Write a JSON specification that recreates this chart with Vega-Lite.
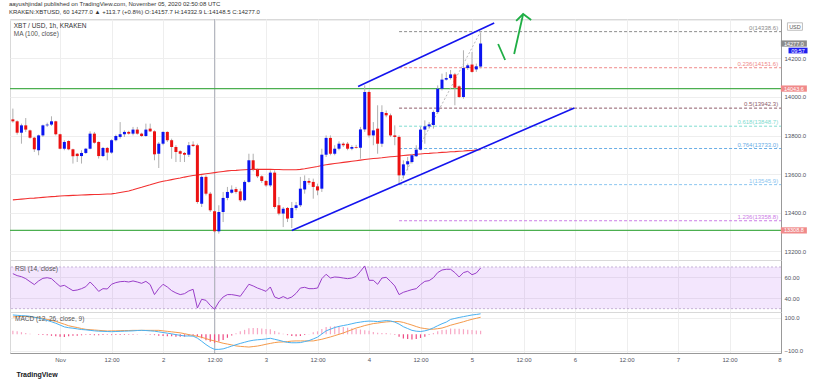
{
"$schema":"https://vega.github.io/schema/vega-lite/v6.json",
"background":"white",
"padding":{"left":8,"top":0,"right":5,"bottom":4},
"title":{"text":"aayushjindal published on TradingView.com, November 05, 2020 02:50:08 UTC","subtitle":"KRAKEN:XBTUSD, 60  14277.0 ▲ +113.7 (+0.8%) O:14157.7 H:14332.9 L:14148.5 C:14277.0","anchor":"start","font":"Liberation Sans","fontSize":6,"fontWeight":"normal","color":"#333333","subtitleFont":"Liberation Sans","subtitleFontSize":6,"subtitleColor":"#333333","subtitlePadding":2,"offset":-5},
"config":{"font":"Liberation Sans","scale":{"continuousPadding":0},"view":{"stroke":"#d9d9d9"},"axis":{"labelFont":"Liberation Sans","labelFontSize":6,"labelColor":"#50535e","gridColor":"#eeeeee","domainColor":"#999999","ticks":false,"titleFont":"Liberation Sans"},"text":{"font":"Liberation Sans","fontSize":6}},
"datasets":{
"candles":[
{"t":"2020-10-31T13:00Z","o":13884,"h":13940,"l":13867,"c":13874,"ma":13467,"rsi":63.6,"macd":117,"sig":105,"hist":22},
{"t":"2020-10-31T14:00Z","o":13874,"h":13879,"l":13805,"c":13815,"ma":13469,"rsi":61.7,"macd":115,"sig":107,"hist":18},
{"t":"2020-10-31T15:00Z","o":13815,"h":13862,"l":13758,"c":13853,"ma":13471,"rsi":60.7,"macd":113,"sig":108,"hist":13},
{"t":"2020-10-31T16:00Z","o":13853,"h":13891,"l":13819,"c":13831,"ma":13473,"rsi":58.8,"macd":112,"sig":108,"hist":8},
{"t":"2020-10-31T17:00Z","o":13827,"h":13831,"l":13784,"c":13789,"ma":13475,"rsi":55.9,"macd":109,"sig":105,"hist":4},
{"t":"2020-10-31T18:00Z","o":13789,"h":13793,"l":13715,"c":13729,"ma":13476,"rsi":53.1,"macd":103,"sig":103,"hist":0},
{"t":"2020-10-31T19:00Z","o":13724,"h":13805,"l":13698,"c":13801,"ma":13478,"rsi":56.6,"macd":98,"sig":101,"hist":-3},
{"t":"2020-10-31T20:00Z","o":13801,"h":13857,"l":13793,"c":13853,"ma":13480,"rsi":59.1,"macd":92,"sig":96,"hist":-4},
{"t":"2020-10-31T21:00Z","o":13853,"h":13867,"l":13845,"c":13857,"ma":13482,"rsi":59.7,"macd":84,"sig":90,"hist":-6},
{"t":"2020-10-31T22:00Z","o":13857,"h":13900,"l":13850,"c":13874,"ma":13484,"rsi":58.8,"macd":76,"sig":85,"hist":-9},
{"t":"2020-10-31T23:00Z","o":13874,"h":13877,"l":13801,"c":13807,"ma":13485,"rsi":55.0,"macd":67,"sig":78,"hist":-11},
{"t":"2020-11-01T00:00Z","o":13807,"h":13810,"l":13729,"c":13732,"ma":13487,"rsi":51.4,"macd":56,"sig":70,"hist":-14},
{"t":"2020-11-01T01:00Z","o":13732,"h":13776,"l":13724,"c":13767,"ma":13488,"rsi":52.4,"macd":45,"sig":61,"hist":-16},
{"t":"2020-11-01T02:00Z","o":13772,"h":13776,"l":13724,"c":13729,"ma":13489,"rsi":49.8,"macd":40,"sig":52,"hist":-12},
{"t":"2020-11-01T03:00Z","o":13729,"h":13732,"l":13655,"c":13693,"ma":13490,"rsi":47.3,"macd":37,"sig":46,"hist":-9},
{"t":"2020-11-01T04:00Z","o":13706,"h":13710,"l":13663,"c":13694,"ma":13491,"rsi":47.9,"macd":33,"sig":41,"hist":-8},
{"t":"2020-11-01T05:00Z","o":13694,"h":13724,"l":13655,"c":13710,"ma":13492,"rsi":49.2,"macd":29,"sig":35,"hist":-6},
{"t":"2020-11-01T06:00Z","o":13710,"h":13736,"l":13705,"c":13732,"ma":13493,"rsi":51.1,"macd":27,"sig":30,"hist":-3},
{"t":"2020-11-01T07:00Z","o":13732,"h":13822,"l":13729,"c":13810,"ma":13494,"rsi":55.6,"macd":24,"sig":28,"hist":-4},
{"t":"2020-11-01T08:00Z","o":13810,"h":13819,"l":13758,"c":13763,"ma":13495,"rsi":51.4,"macd":21,"sig":26,"hist":-5},
{"t":"2020-11-01T09:00Z","o":13767,"h":13770,"l":13681,"c":13694,"ma":13495,"rsi":46.6,"macd":19,"sig":24,"hist":-5},
{"t":"2020-11-01T10:00Z","o":13694,"h":13741,"l":13689,"c":13736,"ma":13496,"rsi":49.2,"macd":18,"sig":22,"hist":-4},
{"t":"2020-11-01T11:00Z","o":13736,"h":13741,"l":13672,"c":13712,"ma":13497,"rsi":48.9,"macd":17,"sig":20,"hist":-3},
{"t":"2020-11-01T12:00Z","o":13712,"h":13781,"l":13706,"c":13776,"ma":13498,"rsi":53.4,"macd":16,"sig":21,"hist":-5},
{"t":"2020-11-01T13:00Z","o":13776,"h":13805,"l":13770,"c":13798,"ma":13501,"rsi":55.0,"macd":17,"sig":21,"hist":-4},
{"t":"2020-11-01T14:00Z","o":13793,"h":13870,"l":13784,"c":13807,"ma":13505,"rsi":55.9,"macd":18,"sig":22,"hist":-4},
{"t":"2020-11-01T15:00Z","o":13807,"h":13827,"l":13793,"c":13819,"ma":13509,"rsi":56.2,"macd":19,"sig":23,"hist":-4},
{"t":"2020-11-01T16:00Z","o":13819,"h":13825,"l":13805,"c":13810,"ma":13513,"rsi":55.6,"macd":20,"sig":23,"hist":-3},
{"t":"2020-11-01T17:00Z","o":13810,"h":13845,"l":13801,"c":13831,"ma":13519,"rsi":56.6,"macd":21,"sig":24,"hist":-3},
{"t":"2020-11-01T18:00Z","o":13831,"h":13845,"l":13805,"c":13810,"ma":13526,"rsi":55.6,"macd":23,"sig":24,"hist":-1},
{"t":"2020-11-01T19:00Z","o":13810,"h":13815,"l":13793,"c":13798,"ma":13532,"rsi":54.3,"macd":24,"sig":24,"hist":0},
{"t":"2020-11-01T20:00Z","o":13798,"h":13862,"l":13793,"c":13831,"ma":13539,"rsi":56.2,"macd":23,"sig":24,"hist":-1},
{"t":"2020-11-01T21:00Z","o":13836,"h":13862,"l":13819,"c":13822,"ma":13545,"rsi":53.1,"macd":21,"sig":24,"hist":-3},
{"t":"2020-11-01T22:00Z","o":13822,"h":13827,"l":13672,"c":13703,"ma":13552,"rsi":43.5,"macd":19,"sig":24,"hist":-5},
{"t":"2020-11-01T23:00Z","o":13706,"h":13767,"l":13632,"c":13758,"ma":13558,"rsi":49.2,"macd":15,"sig":24,"hist":-9},
{"t":"2020-11-02T00:00Z","o":13758,"h":13822,"l":13750,"c":13819,"ma":13563,"rsi":53.4,"macd":11,"sig":21,"hist":-10},
{"t":"2020-11-02T01:00Z","o":13819,"h":13822,"l":13767,"c":13776,"ma":13567,"rsi":50.8,"macd":7,"sig":18,"hist":-11},
{"t":"2020-11-02T02:00Z","o":13776,"h":13784,"l":13680,"c":13741,"ma":13572,"rsi":47.3,"macd":3,"sig":15,"hist":-12},
{"t":"2020-11-02T03:00Z","o":13741,"h":13750,"l":13663,"c":13715,"ma":13576,"rsi":45.1,"macd":-2,"sig":12,"hist":-14},
{"t":"2020-11-02T04:00Z","o":13719,"h":13724,"l":13663,"c":13706,"ma":13580,"rsi":43.5,"macd":-6,"sig":9,"hist":-15},
{"t":"2020-11-02T05:00Z","o":13710,"h":13715,"l":13663,"c":13701,"ma":13585,"rsi":44.4,"macd":-10,"sig":4,"hist":-14},
{"t":"2020-11-02T06:00Z","o":13701,"h":13767,"l":13689,"c":13750,"ma":13589,"rsi":47.0,"macd":-10,"sig":-2,"hist":-8},
{"t":"2020-11-02T07:00Z","o":13753,"h":13770,"l":13741,"c":13746,"ma":13593,"rsi":48.6,"macd":-11,"sig":-7,"hist":-4},
{"t":"2020-11-02T08:00Z","o":13750,"h":13758,"l":13447,"c":13456,"ma":13596,"rsi":30.6,"macd":-23,"sig":-12,"hist":-11},
{"t":"2020-11-02T09:00Z","o":13447,"h":13594,"l":13430,"c":13586,"ma":13599,"rsi":39.0,"macd":-42,"sig":-18,"hist":-24},
{"t":"2020-11-02T10:00Z","o":13586,"h":13594,"l":13490,"c":13499,"ma":13602,"rsi":38.0,"macd":-62,"sig":-26,"hist":-36},
{"t":"2020-11-02T11:00Z","o":13499,"h":13508,"l":13404,"c":13413,"ma":13605,"rsi":33.2,"macd":-79,"sig":-34,"hist":-45},
{"t":"2020-11-02T12:00Z","o":13408,"h":13413,"l":13295,"c":13304,"ma":13608,"rsi":29.4,"macd":-91,"sig":-40,"hist":-51},
{"t":"2020-11-02T13:00Z","o":13304,"h":13439,"l":13292,"c":13404,"ma":13611,"rsi":36.4,"macd":-91,"sig":-47,"hist":-44},
{"t":"2020-11-02T14:00Z","o":13404,"h":13508,"l":13352,"c":13477,"ma":13614,"rsi":41.2,"macd":-88,"sig":-54,"hist":-34},
{"t":"2020-11-02T15:00Z","o":13477,"h":13534,"l":13465,"c":13508,"ma":13617,"rsi":43.5,"macd":-80,"sig":-59,"hist":-21},
{"t":"2020-11-02T16:00Z","o":13504,"h":13542,"l":13499,"c":13520,"ma":13619,"rsi":43.5,"macd":-71,"sig":-64,"hist":-7},
{"t":"2020-11-02T17:00Z","o":13523,"h":13534,"l":13499,"c":13508,"ma":13620,"rsi":42.8,"macd":-63,"sig":-70,"hist":7},
{"t":"2020-11-02T18:00Z","o":13511,"h":13525,"l":13456,"c":13465,"ma":13622,"rsi":41.9,"macd":-55,"sig":-73,"hist":18},
{"t":"2020-11-02T19:00Z","o":13465,"h":13568,"l":13460,"c":13560,"ma":13623,"rsi":47.6,"macd":-48,"sig":-75,"hist":27},
{"t":"2020-11-02T20:00Z","o":13560,"h":13706,"l":13555,"c":13672,"ma":13624,"rsi":53.4,"macd":-41,"sig":-77,"hist":36},
{"t":"2020-11-02T21:00Z","o":13672,"h":13706,"l":13615,"c":13625,"ma":13625,"rsi":51.8,"macd":-36,"sig":-74,"hist":38},
{"t":"2020-11-02T22:00Z","o":13625,"h":13630,"l":13580,"c":13589,"ma":13625,"rsi":49.8,"macd":-33,"sig":-71,"hist":38},
{"t":"2020-11-02T23:00Z","o":13589,"h":13594,"l":13555,"c":13565,"ma":13625,"rsi":48.3,"macd":-31,"sig":-66,"hist":35},
{"t":"2020-11-03T00:00Z","o":13565,"h":13570,"l":13535,"c":13542,"ma":13625,"rsi":46.6,"macd":-28,"sig":-60,"hist":32},
{"t":"2020-11-03T01:00Z","o":13542,"h":13620,"l":13534,"c":13608,"ma":13625,"rsi":50.8,"macd":-24,"sig":-55,"hist":31},
{"t":"2020-11-03T02:00Z","o":13608,"h":13620,"l":13421,"c":13430,"ma":13624,"rsi":41.2,"macd":-30,"sig":-50,"hist":20},
{"t":"2020-11-03T03:00Z","o":13439,"h":13482,"l":13387,"c":13396,"ma":13624,"rsi":39.6,"macd":-36,"sig":-47,"hist":11},
{"t":"2020-11-03T04:00Z","o":13396,"h":13430,"l":13326,"c":13421,"ma":13623,"rsi":41.6,"macd":-43,"sig":-46,"hist":3},
{"t":"2020-11-03T05:00Z","o":13425,"h":13430,"l":13352,"c":13370,"ma":13623,"rsi":39.6,"macd":-49,"sig":-44,"hist":-5},
{"t":"2020-11-03T06:00Z","o":13373,"h":13456,"l":13321,"c":13425,"ma":13623,"rsi":41.2,"macd":-51,"sig":-41,"hist":-10},
{"t":"2020-11-03T07:00Z","o":13425,"h":13456,"l":13413,"c":13439,"ma":13623,"rsi":44.7,"macd":-51,"sig":-40,"hist":-11},
{"t":"2020-11-03T08:00Z","o":13439,"h":13586,"l":13430,"c":13525,"ma":13625,"rsi":49.8,"macd":-50,"sig":-40,"hist":-10},
{"t":"2020-11-03T09:00Z","o":13521,"h":13594,"l":13499,"c":13565,"ma":13628,"rsi":50.5,"macd":-44,"sig":-40,"hist":-4},
{"t":"2020-11-03T10:00Z","o":13565,"h":13580,"l":13545,"c":13556,"ma":13632,"rsi":49.2,"macd":-38,"sig":-40,"hist":2},
{"t":"2020-11-03T11:00Z","o":13560,"h":13577,"l":13473,"c":13534,"ma":13636,"rsi":49.2,"macd":-28,"sig":-40,"hist":12},
{"t":"2020-11-03T12:00Z","o":13537,"h":13551,"l":13491,"c":13516,"ma":13640,"rsi":49.8,"macd":-17,"sig":-35,"hist":18},
{"t":"2020-11-03T13:00Z","o":13525,"h":13732,"l":13508,"c":13701,"ma":13645,"rsi":58.8,"macd":2,"sig":-30,"hist":32},
{"t":"2020-11-03T14:00Z","o":13701,"h":13801,"l":13689,"c":13788,"ma":13649,"rsi":63.0,"macd":21,"sig":-23,"hist":44},
{"t":"2020-11-03T15:00Z","o":13788,"h":13801,"l":13698,"c":13706,"ma":13652,"rsi":59.4,"macd":31,"sig":-16,"hist":47},
{"t":"2020-11-03T16:00Z","o":13706,"h":13750,"l":13698,"c":13732,"ma":13655,"rsi":60.4,"macd":41,"sig":-8,"hist":49},
{"t":"2020-11-03T17:00Z","o":13732,"h":13770,"l":13724,"c":13758,"ma":13658,"rsi":60.1,"macd":48,"sig":0,"hist":48},
{"t":"2020-11-03T18:00Z","o":13758,"h":13765,"l":13741,"c":13750,"ma":13661,"rsi":59.4,"macd":53,"sig":8,"hist":45},
{"t":"2020-11-03T19:00Z","o":13758,"h":13767,"l":13724,"c":13732,"ma":13664,"rsi":58.8,"macd":58,"sig":18,"hist":40},
{"t":"2020-11-03T20:00Z","o":13732,"h":13750,"l":13724,"c":13741,"ma":13667,"rsi":59.4,"macd":64,"sig":28,"hist":36},
{"t":"2020-11-03T21:00Z","o":13741,"h":13752,"l":13733,"c":13737,"ma":13670,"rsi":61.0,"macd":70,"sig":38,"hist":32},
{"t":"2020-11-03T22:00Z","o":13737,"h":13845,"l":13680,"c":13832,"ma":13673,"rsi":65.8,"macd":74,"sig":45,"hist":29},
{"t":"2020-11-03T23:00Z","o":13832,"h":14060,"l":13819,"c":14026,"ma":13676,"rsi":71.0,"macd":78,"sig":53,"hist":25},
{"t":"2020-11-04T00:00Z","o":14026,"h":14034,"l":13790,"c":13801,"ma":13679,"rsi":57.2,"macd":80,"sig":59,"hist":21},
{"t":"2020-11-04T01:00Z","o":13801,"h":13870,"l":13750,"c":13827,"ma":13681,"rsi":57.2,"macd":79,"sig":65,"hist":14},
{"t":"2020-11-04T02:00Z","o":13836,"h":13957,"l":13706,"c":13758,"ma":13683,"rsi":53.4,"macd":77,"sig":68,"hist":9},
{"t":"2020-11-04T03:00Z","o":13758,"h":13957,"l":13741,"c":13922,"ma":13685,"rsi":59.4,"macd":80,"sig":72,"hist":8},
{"t":"2020-11-04T04:00Z","o":13917,"h":13930,"l":13895,"c":13905,"ma":13688,"rsi":60.1,"macd":83,"sig":75,"hist":8},
{"t":"2020-11-04T05:00Z","o":13905,"h":13914,"l":13793,"c":13801,"ma":13690,"rsi":56.2,"macd":81,"sig":77,"hist":4},
{"t":"2020-11-04T06:00Z","o":13801,"h":13853,"l":13750,"c":13793,"ma":13692,"rsi":51.8,"macd":74,"sig":77,"hist":-3},
{"t":"2020-11-04T07:00Z","o":13793,"h":13801,"l":13545.9,"c":13594,"ma":13694,"rsi":43.5,"macd":62,"sig":77,"hist":-15},
{"t":"2020-11-04T08:00Z","o":13594,"h":13672,"l":13577,"c":13651,"ma":13697,"rsi":45.7,"macd":46,"sig":72,"hist":-26},
{"t":"2020-11-04T09:00Z","o":13651,"h":13689,"l":13620,"c":13667,"ma":13699,"rsi":47.0,"macd":35,"sig":64,"hist":-29},
{"t":"2020-11-04T10:00Z","o":13663,"h":13706,"l":13655,"c":13698,"ma":13701,"rsi":48.3,"macd":24,"sig":56,"hist":-32},
{"t":"2020-11-04T11:00Z","o":13693,"h":13750,"l":13689,"c":13727,"ma":13703,"rsi":49.2,"macd":19,"sig":47,"hist":-28},
{"t":"2020-11-04T12:00Z","o":13727,"h":13845,"l":13724,"c":13831,"ma":13705,"rsi":53.1,"macd":17,"sig":39,"hist":-22},
{"t":"2020-11-04T13:00Z","o":13831,"h":13879,"l":13758,"c":13848,"ma":13707,"rsi":56.2,"macd":21,"sig":35,"hist":-14},
{"t":"2020-11-04T14:00Z","o":13848,"h":13870,"l":13836,"c":13858,"ma":13708,"rsi":56.9,"macd":28,"sig":31,"hist":-3},
{"t":"2020-11-04T15:00Z","o":13855,"h":13930,"l":13836,"c":13922,"ma":13710,"rsi":59.7,"macd":39,"sig":31,"hist":8},
{"t":"2020-11-04T16:00Z","o":13922,"h":14060,"l":13914,"c":14043,"ma":13711,"rsi":64.6,"macd":52,"sig":34,"hist":18},
{"t":"2020-11-04T17:00Z","o":14043,"h":14121,"l":14034,"c":14090,"ma":13713,"rsi":67.1,"macd":64,"sig":38,"hist":26},
{"t":"2020-11-04T18:00Z","o":14090,"h":14129,"l":14085,"c":14098,"ma":13714,"rsi":67.8,"macd":74,"sig":46,"hist":28},
{"t":"2020-11-04T19:00Z","o":14098,"h":14140,"l":14090,"c":14117,"ma":13716,"rsi":67.8,"macd":90,"sig":55,"hist":35},
{"t":"2020-11-04T20:00Z","o":14117,"h":14125,"l":13957,"c":14048,"ma":13717,"rsi":64.6,"macd":96,"sig":62,"hist":34},
{"t":"2020-11-04T21:00Z","o":14055,"h":14060,"l":13995,"c":14000,"ma":13719,"rsi":60.4,"macd":102,"sig":69,"hist":33},
{"t":"2020-11-04T22:00Z","o":14000,"h":14242,"l":13991,"c":14150,"ma":13720,"rsi":64.6,"macd":107,"sig":76,"hist":31},
{"t":"2020-11-04T23:00Z","o":14150,"h":14173,"l":14140,"c":14164,"ma":13722,"rsi":65.8,"macd":112,"sig":84,"hist":28},
{"t":"2020-11-05T00:00Z","o":14168,"h":14233,"l":14126,"c":14130,"ma":13723,"rsi":62.6,"macd":117,"sig":91,"hist":26},
{"t":"2020-11-05T01:00Z","o":14143,"h":14173,"l":14130,"c":14159,"ma":13725,"rsi":64.2,"macd":120,"sig":97,"hist":23},
{"t":"2020-11-05T02:00Z","o":14157.7,"h":14332.9,"l":14148.5,"c":14277.0,"ma":13727,"rsi":69.0,"macd":124,"sig":103,"hist":21}
],
"fib":[
{"lvl":"0","p":14338.6,"lab":"0(14338.6)"},
{"lvl":"0.236","p":14151.6,"lab":"0.236(14151.6)"},
{"lvl":"0.5","p":13942.3,"lab":"0.5(13942.3)"},
{"lvl":"0.618","p":13848.7,"lab":"0.618(13848.7)"},
{"lvl":"0.764","p":13733.0,"lab":"0.764(13733.0)"},
{"lvl":"1","p":13545.9,"lab":"1(13545.9)"},
{"lvl":"1.236","p":13358.8,"lab":"1.236(13358.8)"}
]
},
"spacing":0,
"bounds":"flush",
"vconcat":[
{
"width":771,"height":241,
"data":{"name":"candles"},
"layer":[
{"data":{"values":[{}]},"mark":{"type":"rule","color":"#b2b5be","strokeWidth":1},
 "encoding":{"x":{"datum":{"year":2020,"month":11,"date":2,"hours":12,"utc":true},"type":"temporal","scale":{"type":"utc","padding":0,"domain":[{"year":2020,"month":10,"date":31,"hours":12,"minutes":20,"utc":true},{"year":2020,"month":11,"date":8,"utc":true}]},
 "axis":{"values":[1604188800000,1604232000000,1604275200000,1604318400000,1604361600000,1604404800000,1604448000000,1604491200000,1604534400000,1604577600000,1604620800000,1604664000000,1604707200000,1604750400000,1604793600000],"labels":false,"ticks":false,"domain":false,"grid":true,"title":null}}}},
{"data":{"values":[{"p":14043.6},{"p":13308.8}]},"mark":{"type":"rule","color":"#4caf50","strokeWidth":1.2},
 "encoding":{"y":{"field":"p","type":"quantitative","scale":{"domain":[13155.4,14404.1],"nice":false,"zero":false,"padding":0},
 "axis":{"orient":"right","values":[13200,13300,13400,13500,13600,13700,13800,13900,14000,14100,14200,14300,14400],"labelExpr":"datum.value > 14350 ? '' : format(datum.value, '.1f')","grid":true,"domain":true,"labelPadding":3,"title":null}}}},
{"data":{"name":"fib"},"mark":{"type":"rule","strokeDash":[3,2],"strokeWidth":1},
 "encoding":{"x":{"datum":{"year":2020,"month":11,"date":4,"hours":7,"utc":true},"type":"temporal"},"x2":{"datum":{"year":2020,"month":11,"date":8,"utc":true}},"y":{"field":"p","type":"quantitative"},
 "color":{"field":"lvl","type":"nominal","scale":{"domain":["0","0.236","0.5","0.618","0.764","1","1.236"],"range":["#8c8c8c","#f08a8a","#8e5c6a","#7fdcd0","#6aaee6","#8cc6f0","#cc7de6"]},"legend":null}}},
{"data":{"values":[{"t":"2020-11-04T07:00Z","p":13545.9},{"t":"2020-11-05T02:00Z","p":14338.6}]},"mark":{"type":"line","color":"#b8b8b8","strokeDash":[2,2],"strokeWidth":1},
 "encoding":{"x":{"field":"t","type":"temporal"},"y":{"field":"p","type":"quantitative"}}},
{"mark":{"type":"line","color":"#f23030","strokeWidth":1.1},
 "encoding":{"x":{"field":"t","type":"temporal"},"y":{"field":"ma","type":"quantitative"}}},
{"mark":{"type":"rule","color":"#b0b0b0","strokeWidth":1},
 "encoding":{"x":{"field":"t","type":"temporal"},"y":{"field":"l","type":"quantitative"},"y2":{"field":"h"}}},
{"mark":{"type":"bar","size":3},
 "encoding":{"x":{"field":"t","type":"temporal"},"y":{"field":"o","type":"quantitative"},"y2":{"field":"c"},
 "color":{"condition":{"test":"datum.c >= datum.o","value":"#0a14f0"},"value":"#ec1111"}}},
{"data":{"values":[{"ln":"up","t":"2020-11-03T21:27Z","p":14054},{"ln":"up","t":"2020-11-05T05:10Z","p":14383},{"ln":"low","t":"2020-11-03T06:00Z","p":13308.8},{"ln":"low","t":"2020-11-05T23:50Z","p":13943}]},
 "mark":{"type":"line","color":"#1414ee","strokeWidth":1.6,"clip":false},
 "encoding":{"x":{"field":"t","type":"temporal"},"y":{"field":"p","type":"quantitative"},"detail":{"field":"ln"}}},
{"data":{"values":[{"s":"a","t":"2020-11-05T06:05Z","p":14274.6},{"s":"a","t":"2020-11-05T07:43Z","p":14191.7},{"s":"b","t":"2020-11-05T09:49Z","p":14222.8},{"s":"b","t":"2020-11-05T11:55Z","p":14430},{"s":"c","t":"2020-11-05T10:17Z","p":14394},{"s":"c","t":"2020-11-05T11:55Z","p":14430},{"s":"c","t":"2020-11-05T13:47Z","p":14399}]},
 "mark":{"type":"line","color":"#1fae45","strokeWidth":1.8,"clip":false},
 "encoding":{"x":{"field":"t","type":"temporal"},"y":{"field":"p","type":"quantitative"},"detail":{"field":"s"}}},
{"data":{"name":"fib"},"mark":{"type":"text","align":"right","dy":-4,"fontSize":6},
 "encoding":{"x":{"datum":{"year":2020,"month":11,"date":7,"hours":23,"minutes":20,"utc":true},"type":"temporal"},"y":{"field":"p","type":"quantitative"},"text":{"field":"lab"},
 "color":{"field":"lvl","type":"nominal","scale":{"domain":["0","0.236","0.5","0.618","0.764","1","1.236"],"range":["#8c8c8c","#f08a8a","#8e5c6a","#7fdcd0","#6aaee6","#8cc6f0","#cc7de6"]},"legend":null}}},
{"data":{"values":[{"lab":"XBT / USD, 1h, KRAKEN"}]},"mark":{"type":"text","align":"left","fontSize":6.5,"color":"#333333"},
 "encoding":{"x":{"datum":{"year":2020,"month":10,"date":31,"hours":13,"minutes":12,"utc":true},"type":"temporal"},"y":{"datum":14366,"type":"quantitative"},"text":{"field":"lab"}}},
{"data":{"values":[{"lab":"MA (100, close)"}]},"mark":{"type":"text","align":"left","fontSize":6.5,"color":"#555555"},
 "encoding":{"x":{"datum":{"year":2020,"month":10,"date":31,"hours":13,"minutes":12,"utc":true},"type":"temporal"},"y":{"datum":14325,"type":"quantitative"},"text":{"field":"lab"}}},
{"data":{"values":[{"kind":"last","p":14277.0,"lab":"14277.0"},{"kind":"sup","p":14043.6,"lab":"14043.6"},{"kind":"sup","p":13308.8,"lab":"13308.8"}]},
 "mark":{"type":"point","filled":true,"opacity":1,"size":676,"shape":"M-1,-0.24H1V0.24H-1Z","clip":false},
 "encoding":{"x":{"datum":{"year":2020,"month":11,"date":8,"hours":3,"utc":true},"type":"temporal"},"y":{"field":"p","type":"quantitative"},
 "color":{"field":"kind","type":"nominal","scale":{"domain":["last","sup"],"range":["#1e1ef0","#4caf50"]},"legend":null}}},
{"data":{"values":[{"kind":"last","p":14277.0,"lab":"14277.0"},{"kind":"sup","p":14043.6,"lab":"14043.6"},{"kind":"sup","p":13308.8,"lab":"13308.8"}]},
 "mark":{"type":"text","color":"white","fontSize":5.5,"clip":false},
 "encoding":{"x":{"datum":{"year":2020,"month":11,"date":8,"hours":3,"utc":true},"type":"temporal"},"y":{"field":"p","type":"quantitative"},"text":{"field":"lab"}}},
{"data":{"values":[{"p":14277.0,"lab":"09:57"}]},
 "mark":{"type":"point","filled":true,"opacity":1,"size":361,"shape":"M-1,-0.3H1V0.3H-1Z","color":"#1e1ef0","yOffset":7,"clip":false},
 "encoding":{"x":{"datum":{"year":2020,"month":11,"date":8,"hours":3,"minutes":58,"utc":true},"type":"temporal"},"y":{"field":"p","type":"quantitative"}}},
{"data":{"values":[{"p":14277.0,"lab":"09:57"}]},
 "mark":{"type":"text","color":"white","fontSize":5.5,"dy":7,"clip":false},
 "encoding":{"x":{"datum":{"year":2020,"month":11,"date":8,"hours":3,"minutes":58,"utc":true},"type":"temporal"},"y":{"field":"p","type":"quantitative"},"text":{"field":"lab"}}},
{"data":{"values":[{"lab":"USD"}]},
 "mark":{"type":"point","filled":false,"opacity":1,"size":225,"shape":"M-1,-0.5H1V0.5H-1Z","color":"#b0b0b0","strokeWidth":0.8,"fill":"white","fillOpacity":1,"clip":false},
 "encoding":{"x":{"datum":{"year":2020,"month":11,"date":8,"hours":3,"minutes":15,"utc":true},"type":"temporal"},"y":{"datum":14365,"type":"quantitative"}}},
{"data":{"values":[{"lab":"USD"}]},
 "mark":{"type":"text","color":"#555555","fontSize":5.5,"clip":false},
 "encoding":{"x":{"datum":{"year":2020,"month":11,"date":8,"hours":3,"minutes":15,"utc":true},"type":"temporal"},"y":{"datum":14365,"type":"quantitative"},"text":{"field":"lab"}}}
]
},
{
"width":771,"height":52,
"data":{"name":"candles"},
"layer":[
{"data":{"values":[{}]},"mark":{"type":"rect","color":"#9933ee","opacity":0.12},
 "encoding":{"x":{"datum":{"year":2020,"month":10,"date":31,"hours":12,"minutes":20,"utc":true},"type":"temporal","scale":{"type":"utc","padding":0,"domain":[{"year":2020,"month":10,"date":31,"hours":12,"minutes":20,"utc":true},{"year":2020,"month":11,"date":8,"utc":true}]},
 "axis":{"values":[1604188800000,1604232000000,1604275200000,1604318400000,1604361600000,1604404800000,1604448000000,1604491200000,1604534400000,1604577600000,1604620800000,1604664000000,1604707200000,1604750400000,1604793600000],"labels":false,"ticks":false,"domain":false,"grid":true,"title":null}},
 "x2":{"datum":{"year":2020,"month":11,"date":8,"utc":true}},
 "y":{"datum":70,"type":"quantitative","scale":{"domain":[26.8,76.7],"nice":false,"zero":false,"padding":0},"axis":{"orient":"right","values":[40,60],"format":".2f","grid":true,"domain":true,"labelPadding":3,"title":null}},
 "y2":{"datum":30}}},
{"data":{"values":[{"v":70},{"v":30}]},"mark":{"type":"rule","color":"#b9a3cc","strokeDash":[2,2],"strokeWidth":0.8},
 "encoding":{"y":{"field":"v","type":"quantitative"}}},
{"data":{"values":[{}]},"mark":{"type":"rule","color":"#b2b5be","strokeWidth":1},
 "encoding":{"x":{"datum":{"year":2020,"month":11,"date":2,"hours":12,"utc":true},"type":"temporal"}}},
{"mark":{"type":"line","color":"#9a3fc9","strokeWidth":1},
 "encoding":{"x":{"field":"t","type":"temporal"},"y":{"field":"rsi","type":"quantitative"}}},
{"data":{"values":[{"lab":"RSI (14, close)"}]},"mark":{"type":"text","align":"left","fontSize":6.5,"color":"#555555"},
 "encoding":{"x":{"datum":{"year":2020,"month":10,"date":31,"hours":13,"minutes":30,"utc":true},"type":"temporal"},"y":{"datum":68.4,"type":"quantitative"},"text":{"field":"lab"}}}
]
},
{
"width":771,"height":41,
"data":{"name":"candles"},
"layer":[
{"data":{"values":[{}]},"mark":{"type":"rule","color":"#b2b5be","strokeWidth":1},
 "encoding":{"x":{"datum":{"year":2020,"month":11,"date":2,"hours":12,"utc":true},"type":"temporal","scale":{"type":"utc","padding":0,"domain":[{"year":2020,"month":10,"date":31,"hours":12,"minutes":20,"utc":true},{"year":2020,"month":11,"date":8,"utc":true}]},
 "axis":{"values":[1604188800000,1604232000000,1604275200000,1604318400000,1604361600000,1604404800000,1604448000000,1604491200000,1604534400000,1604577600000,1604620800000,1604664000000,1604707200000,1604750400000,1604793600000],
 "labelExpr":"utchours(datum.value) == 12 ? '12:00' : (utcdate(datum.value) == 1 ? 'Nov' : '' + utcdate(datum.value))",
 "labelPadding":3,"labelFontSize":6,"ticks":false,"domain":true,"domainColor":"#999999","grid":true,
 "title":"TradingView","titleAnchor":"start","titleAlign":"left","titleX":6,"titleFontSize":7,"titleFontWeight":"bold","titleColor":"#131722","titlePadding":8}}}},
{"mark":{"type":"bar","size":1.2},
 "encoding":{"x":{"field":"t","type":"temporal"},"y":{"field":"hist","type":"quantitative","scale":{"domain":[-113,135],"nice":false,"zero":false,"padding":0},
 "axis":{"orient":"right","values":[-100,0,100],"format":".1f","grid":true,"domain":true,"labelPadding":3,"title":null}},
 "y2":{"datum":0},
 "color":{"condition":{"test":"datum.hist < 0","value":"#ee4a83"},"value":"#f7a6c4"}}},
{"mark":{"type":"line","color":"#f59a4a","strokeWidth":1},
 "encoding":{"x":{"field":"t","type":"temporal"},"y":{"field":"sig","type":"quantitative"}}},
{"mark":{"type":"line","color":"#4ab1f1","strokeWidth":1},
 "encoding":{"x":{"field":"t","type":"temporal"},"y":{"field":"macd","type":"quantitative"}}},
{"data":{"values":[{"lab":"MACD (12, 26, close, 9)"}]},"mark":{"type":"text","align":"left","fontSize":6.5,"color":"#555555"},
 "encoding":{"x":{"datum":{"year":2020,"month":10,"date":31,"hours":13,"minutes":30,"utc":true},"type":"temporal"},"y":{"datum":91,"type":"quantitative"},"text":{"field":"lab"}}}
]
}
]
}
